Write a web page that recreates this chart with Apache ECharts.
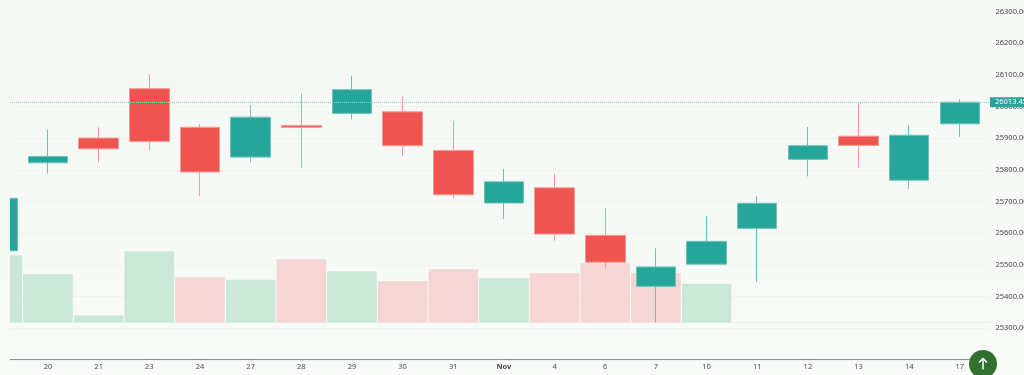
<!DOCTYPE html>
<html>
<head>
<meta charset="utf-8">
<style>html,body{margin:0;padding:0;background:#f6f8f6;overflow:hidden}#c{width:1024px;height:375px}</style>
<script src="https://cdn.jsdelivr.net/npm/echarts@6/dist/echarts.min.js"></script>
</head>
<body>
<div id="c"></div>
<script>
// x index -1 is the partly visible session before "20"
const tickLabels = ['20','21','23','24','27','28','29','30','31','Nov','4','6','7','10','11','12','13','14','17'];
const positions = [-1,0,1,2,3,4,5,6,7,8,9,10,11,12,13,14,15,16,17,18];
const opens  = [25544,25822,25900,26056,25934,25840,25940,25978,25983,25861,25695,25743,25593,25432,25502,25615,25833,25906,25767,25945];
const closes = [25710,25842,25866,25889,25793,25966,25934,26053,25876,25721,25762,25597,25508,25493,25574,25694,25876,25877,25909,26013.45];
const lows   = [25544,25788,25824,25861,25717,25825,25806,25959,25843,25710,25644,25576,25490,25318,25502,25446,25779,25806,25739,25904];
const highs  = [25710,25926,25934,26102,25944,26004,26041,26097,26031,25954,25803,25787,25679,25552,25654,25717,25935,26012,25940,26023];
const volumes   = [67,48,7,71,45,42.5,63,51,41,53,44,49,59,49,38.5];
const volumeUp  = [1,1,1,1,0,1,0,1,0,0,1,0,0,0,1];
const lastPrice = 26013.45;

const UP = '#26a69a', DOWN = '#f05450', UP_EDGE = '#6cc2b7', DOWN_EDGE = '#f59a97', VOL_UP = '#cae8d7', VOL_DOWN = '#f6d5d5';
const FONT = '"Noto Sans", sans-serif';

const candleData = positions.map((x, i) => [x, opens[i], closes[i], lows[i], highs[i]]);
const volumeData = volumes.map((v, i) => ({
  value: [positions[i], v],
  itemStyle: { color: volumeUp[i] ? VOL_UP : VOL_DOWN }
}));

const xMin = -0.75, xMax = 18.575;
const bg = () => new echarts.graphic.LinearGradient(0, 0, 0, 1, [
  { offset: 0, color: '#f5f7f5' }, { offset: 1, color: '#f9fbf9' }
]);
const chart = echarts.init(document.getElementById('c'), null, { renderer: 'canvas' });
chart.setOption({
  animation: false,
  backgroundColor: bg(),
  grid: [
    { left: 10, right: 35, top: 11.4, height: 348.4, outerBoundsMode: 'none', containLabel: false },
    { left: 10, right: 35, top: 222, height: 100.5, outerBoundsMode: 'none', containLabel: false }
  ],
  xAxis: [
    {
      type: 'value', gridIndex: 0, min: xMin, max: xMax, interval: 0.25, offset: -1,
      axisLine: { show: true, onZero: false, lineStyle: { color: '#8f8da6', width: 1 } },
      axisTick: { show: false },
      splitLine: { show: false },
      axisLabel: {
        margin: 4, fontSize: 7.5, fontFamily: FONT, color: '#4a4a4a',
        showMinLabel: false, showMaxLabel: false, hideOverlap: false,
        formatter: v => {
          const t = Number.isInteger(v) ? tickLabels[v] : '';
          return t === 'Nov' ? '{b|Nov}' : (t || '');
        },
        rich: { b: { fontSize: 7.5, fontWeight: 'bold', fontFamily: FONT, color: '#4a4a4a' } }
      }
    },
    {
      type: 'value', gridIndex: 1, min: xMin, max: xMax, interval: 0.25,
      axisLine: { show: true, onZero: false, lineStyle: { color: '#e0f0e7', type: 'dotted', width: 1 } },
      axisTick: { show: false }, axisLabel: { show: false }, splitLine: { show: false }
    }
  ],
  yAxis: [
    {
      type: 'value', gridIndex: 0, position: 'right', min: 25200, max: 26300, interval: 100,
      axisLine: { show: false }, axisTick: { show: false },
      splitLine: { show: true, lineStyle: { color: '#f0f3f0', width: 1 } },
      axisLabel: {
        margin: 6.5, fontSize: 7.5, fontFamily: FONT, color: '#444',
        showMinLabel: false, formatter: v => v.toFixed(2)
      }
    },
    {
      type: 'value', gridIndex: 1, min: 0, max: 100,
      axisLine: { show: false }, axisTick: { show: false },
      axisLabel: { show: false }, splitLine: { show: false }
    }
  ],
  series: [
    {
      type: 'bar', name: 'Volume', xAxisIndex: 1, yAxisIndex: 1, data: volumeData,
      barWidth: 49.6, clip: true, z: 2
    },
    {
      type: 'candlestick', name: 'Price', xAxisIndex: 0, yAxisIndex: 0,
      data: candleData, encode: { x: 0, y: [1, 2, 3, 4] },
      barWidth: 40, clip: true, z: 3,
      itemStyle: { color: UP, color0: DOWN, borderColor: UP_EDGE, borderColor0: DOWN_EDGE, borderWidth: 1 },
      markLine: {
        silent: true, symbol: 'none', z: 5, animation: false,
        lineStyle: { color: '#8fd0c4', type: 'dotted', width: 1 },
        label: {
          show: true, position: 'end', distance: 1, formatter: lastPrice.toFixed(2),
          fontSize: 7.5, fontFamily: FONT, color: '#fff', backgroundColor: UP,
          padding: [1, 4, 1, 5], align: 'left'
        },
        data: [{ yAxis: lastPrice }]
      }
    }
  ],
  graphic: [
    // left margin of the plot: hides the part of the first session before the plot's edge
    { type: 'rect', z: 90, shape: { x: 0, y: 0, width: 10, height: 375 }, style: { fill: bg() } },
    { type: 'circle', z: 100, shape: { cx: 983, cy: 364, r: 14 }, style: { fill: '#32702f' } },
    { type: 'polyline', z: 101, shape: { points: [[983, 369.5], [983, 358.5]] },
      style: { stroke: '#fff', lineWidth: 1.5, fill: null } },
    { type: 'polyline', z: 101, shape: { points: [[979, 362.5], [983, 358.5], [987, 362.5]] },
      style: { stroke: '#fff', lineWidth: 1.5, fill: null } }
  ]
});
</script>
</body>
</html>
